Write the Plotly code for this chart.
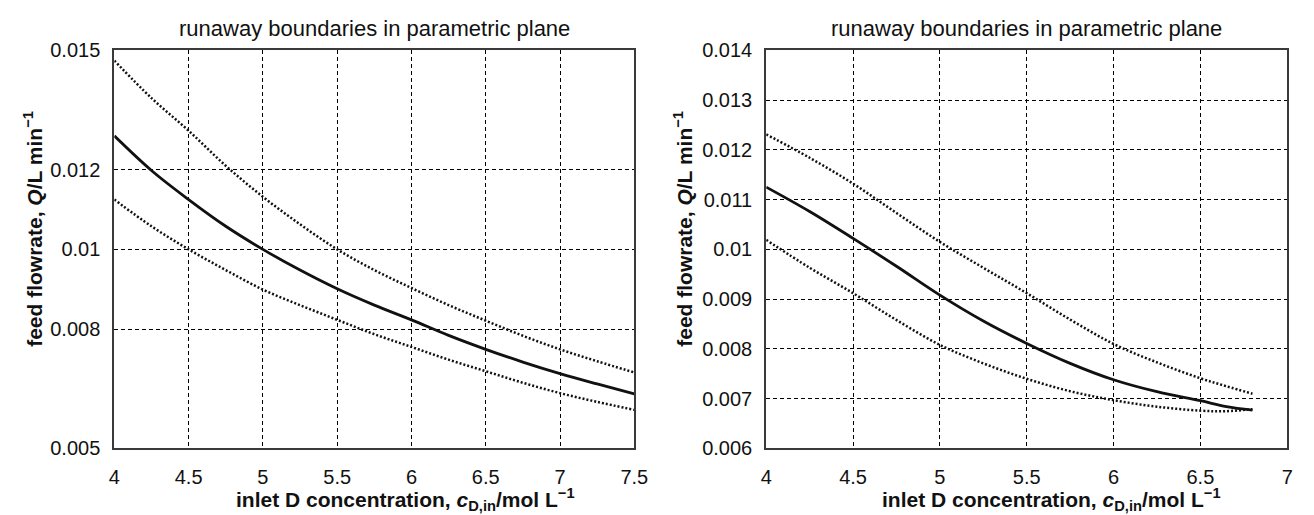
import plotly.graph_objects as go

# ---------------- data ----------------
x_left = [4, 4.25, 4.5, 4.75, 5, 5.25, 5.5, 5.75, 6, 6.25, 6.5, 6.75, 7, 7.25, 7.5]
q_left_mid = [0.01285, 0.01198, 0.01125, 0.01058, 0.0100, 0.00948, 0.00901, 0.0086,
              0.00823, 0.00784, 0.00749, 0.00717, 0.00688, 0.00662, 0.00637]
q_left_upper = [0.01474, 0.01380, 0.01298, 0.01210, 0.01132, 0.01063, 0.0100, 0.00948,
                0.00903, 0.0086, 0.00821, 0.00783, 0.00749, 0.00719, 0.00691]
q_left_lower = [0.01125, 0.01058, 0.0100, 0.00948, 0.00899, 0.0086, 0.00823, 0.00787,
                0.00755, 0.00723, 0.00694, 0.00665, 0.00639, 0.00617, 0.00597]

x_right = [4, 4.25, 4.5, 4.75, 5, 5.25, 5.5, 5.75, 6, 6.25, 6.5, 6.65, 6.8]
q_right_mid = [0.01125, 0.01076, 0.01022, 0.00966, 0.00908, 0.00856, 0.00811, 0.00771,
               0.00738, 0.00714, 0.00696, 0.00684, 0.00677]
q_right_upper = [0.01231, 0.01184, 0.01132, 0.01073, 0.01015, 0.00963, 0.00912, 0.00859,
                 0.0081, 0.00773, 0.00741, 0.00725, 0.0071]
q_right_lower = [0.01019, 0.00963, 0.00912, 0.00858, 0.00808, 0.00771, 0.0074, 0.00715,
                 0.00697, 0.00684, 0.00676, 0.00675, 0.00679]

x_ticks_left = [4, 4.5, 5, 5.5, 6, 6.5, 7, 7.5]
x_ticklabels_left = ["4", "4.5", "5", "5.5", "6", "6.5", "7", "7.5"]
y_ticks_left = [0.005, 0.008, 0.01, 0.012, 0.015]
y_ticklabels_left = ["0.005", "0.008", "0.01", "0.012", "0.015"]

x_ticks_right = [4, 4.5, 5, 5.5, 6, 6.5, 7]
x_ticklabels_right = ["4", "4.5", "5", "5.5", "6", "6.5", "7"]
y_ticks_right = [0.006, 0.007, 0.008, 0.009, 0.01, 0.011, 0.012, 0.013, 0.014]
y_ticklabels_right = ["0.006", "0.007", "0.008", "0.009", "0.01", "0.011", "0.012", "0.013", "0.014"]

title_text = "runaway boundaries in parametric plane"
xlabel_text = "inlet D concentration, <i>c</i><sub>D,in</sub>/mol L<sup>−1</sup>"
ylabel_text = "feed flowrate, <i>Q</i>/L min<sup>−1</sup>"

# ---------------- figure ----------------
W, H = 1314, 515
FONT = "Liberation Sans, Arial, Helvetica, sans-serif"
LINE = "#111111"

def px(x):
    return x / W

def py(y):
    return 1 - y / H

fig = go.Figure()

def add_lines(xs, mid, up, lo, xa, ya):
    for ys in (up, lo):
        fig.add_trace(go.Scatter(x=xs, y=ys, mode="lines", xaxis=xa, yaxis=ya,
                                 line=dict(color=LINE, width=2.5, dash="2px,2px", shape="spline"),
                                 showlegend=False))
    fig.add_trace(go.Scatter(x=xs, y=mid, mode="lines", xaxis=xa, yaxis=ya,
                             line=dict(color=LINE, width=2.8, shape="spline"),
                             showlegend=False))

add_lines(x_left, q_left_mid, q_left_upper, q_left_lower, "x", "y")
add_lines(x_right, q_right_mid, q_right_upper, q_right_lower, "x2", "y2")

ydom = [py(457), py(41)]
axis_common = dict(
    showline=True, mirror=True, linecolor="#3a3a3a", linewidth=2,
    showgrid=True, gridcolor="#000000", gridwidth=1, griddash="4px,3px",
    zeroline=False, ticks="", tickfont=dict(family=FONT, size=20, color="#111111"),
)

fig.update_layout(
    width=W, height=H,
    margin=dict(l=0, r=0, t=0, b=0),
    paper_bgcolor="white", plot_bgcolor="white",
    xaxis=dict(domain=[px(110), px(638)], range=[4, 7.5], anchor="y",
               tickvals=x_ticks_left, ticktext=x_ticklabels_left,
               ticklabelstandoff=10, **axis_common),
    yaxis=dict(domain=ydom, range=[0.005, 0.015], anchor="x",
               tickvals=y_ticks_left, ticktext=y_ticklabels_left,
               ticklabelstandoff=8, **axis_common),
    xaxis2=dict(domain=[px(772), px(1301)], range=[4, 7], anchor="y2",
                tickvals=x_ticks_right, ticktext=x_ticklabels_right,
                ticklabelstandoff=10, **axis_common),
    yaxis2=dict(domain=ydom, range=[0.006, 0.014], anchor="x2",
                tickvals=y_ticks_right, ticktext=y_ticklabels_right,
                ticklabelstandoff=8, **axis_common),
)

ann = []
for cx in (374, 1036):
    ann.append(dict(text=title_text, x=px(cx), y=py(18), xref="paper", yref="paper",
                    xanchor="center", yanchor="middle", showarrow=False,
                    font=dict(family=FONT, size=22, color="#111111")))
for cx in (406, 1062):
    ann.append(dict(text=xlabel_text, x=px(cx), y=py(510), xref="paper", yref="paper",
                    xanchor="center", yanchor="middle", showarrow=False,
                    font=dict(family=FONT, size=21, color="#111111", weight="bold")))
for cx in (28, 688):
    ann.append(dict(text=ylabel_text, x=px(cx), y=py(228), xref="paper", yref="paper",
                    xanchor="center", yanchor="middle", showarrow=False, textangle=-90,
                    font=dict(family=FONT, size=21, color="#111111", weight="bold")))
fig.update_layout(annotations=ann)

fig.write_html("out.html")
